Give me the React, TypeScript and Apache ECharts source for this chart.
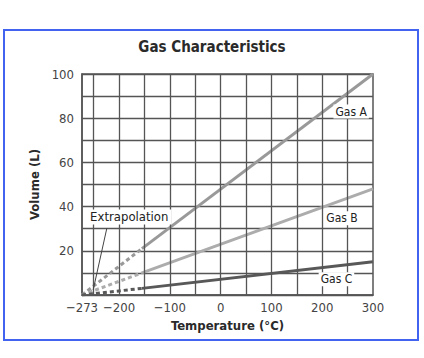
import React, { useEffect, useRef } from "react";
import * as echarts from "echarts";

const FONT = "'DejaVu Sans Condensed', 'Noto Sans', sans-serif";

const xLabelValues = [-273, -200, -100, 0, 100, 200, 300];
const xGridValues = [-250, -200, -150, -100, -50, 0, 50, 100, 150, 200, 250];

const gasNames = ["Gas A", "Gas B", "Gas C"];
const gasColors = ["#999999", "#acacac", "#585858"];
const gasSolid = [
  [[-155, 21], [300, 100]],
  [[-155, 10], [300, 48]],
  [[-155, 3], [300, 15]],
];
const gasDashed = [
  [[-273, 0], [-155, 21]],
  [[-273, 0], [-155, 10]],
  [[-273, 0], [-155, 3]],
];
const gasLabelCoords = [
  [257, 83],
  [239, 34.7],
  [228, 7.1],
];
const extrapLabel = [-180, 35.3];
const extrapPointer = [[-224, 30.3], [-251, 2.3]];

export default function App() {
  const ref = useRef<HTMLDivElement>(null);
  useEffect(() => {
    document.body.style.margin = "0";
    const chart = echarts.init(ref.current!, null, { renderer: "svg" });
    const series: any[] = [];
    gasNames.forEach((name, i) => {
      series.push({
        type: "line",
        name: name + " extrapolation",
        data: gasDashed[i],
        symbol: "none",
        lineStyle: { color: gasColors[i], width: 3, type: [4, 3] },
        z: 3,
      });
      series.push({
        type: "line",
        name,
        data: gasSolid[i],
        symbol: "none",
        lineStyle: { color: gasColors[i], width: 3 },
        z: 4,
        markPoint: {
          symbol: "rect",
          symbolSize: 0,
          silent: true,
          data: [
            {
              coord: gasLabelCoords[i],
              label: {
                show: true,
                formatter: name,
                position: "inside",
                fontFamily: FONT,
                fontSize: 12,
                color: "#222",
                backgroundColor: "#fff",
                padding: [1, 2],
              },
            },
          ],
        },
      });
    });
    series.push({
      type: "line",
      name: "grid",
      data: [],
      symbol: "none",
      z: 1,
      markLine: {
        silent: true,
        symbol: "none",
        label: { show: false },
        lineStyle: { color: "#555", width: 1.3, type: "solid" },
        data: xGridValues.map((v) => ({ xAxis: v })),
      },
    });
    series.push({
      type: "line",
      name: "extrapolation",
      data: [],
      symbol: "none",
      z: 6,
      markLine: {
        silent: true,
        symbol: "none",
        label: { show: false },
        lineStyle: { color: "#444", width: 1, type: "solid" },
        data: [[{ coord: extrapPointer[0] }, { coord: extrapPointer[1] }]],
      },
      markPoint: {
        symbol: "rect",
        symbolSize: 0,
        silent: true,
        data: [
          {
            coord: extrapLabel,
            label: {
              show: true,
              formatter: "Extrapolation",
              position: "inside",
              fontFamily: FONT,
              fontSize: 13,
              color: "#222",
              backgroundColor: "#fff",
              padding: [1, 3],
            },
          },
        ],
      },
    });

    chart.setOption({
      animation: false,
      backgroundColor: "#fff",
      title: {
        text: "Gas Characteristics",
        left: "center",
        top: 34,
        textStyle: { fontFamily: FONT, fontSize: 15, fontWeight: "bold", color: "#2a2a2a" },
      },
      graphic: [
        {
          type: "rect",
          shape: { x: 4, y: 30, width: 414, height: 310 },
          style: { fill: "none", stroke: "#4163f0", lineWidth: 2 },
          z: 0,
        },
      ],
      grid: {
        left: 82,
        right: 51,
        top: 74,
        bottom: 63,
        show: true,
        borderColor: "#555",
        borderWidth: 1.5,
      },
      xAxis: {
        type: "value",
        min: -273,
        max: 300,
        name: "Temperature (°C)",
        nameLocation: "middle",
        nameGap: 24,
        nameTextStyle: { fontFamily: FONT, fontSize: 13, fontWeight: "bold", color: "#2a2a2a" },
        axisLine: { show: true, onZero: false, lineStyle: { color: "#555", width: 1.5 } },
        axisTick: { show: false },
        splitLine: { show: false },
        axisLabel: {
          customValues: xLabelValues,
          fontFamily: FONT,
          fontSize: 13,
          color: "#444",
          margin: 6,
          formatter: (v: number) => String(v).replace("-", "\u2212"),
        },
      },
      yAxis: {
        type: "value",
        min: 0,
        max: 100,
        interval: 10,
        name: "Volume (L)",
        nameLocation: "middle",
        nameGap: 37,
        nameRotate: 90,
        nameTextStyle: { fontFamily: FONT, fontSize: 13, fontWeight: "bold", color: "#2a2a2a" },
        axisLine: { show: true, onZero: false, lineStyle: { color: "#555", width: 1.5 } },
        axisTick: { show: false },
        splitLine: { show: true, lineStyle: { color: "#555", width: 1.3 } },
        axisLabel: {
          fontFamily: FONT,
          fontSize: 13,
          color: "#444",
          margin: 8,
          formatter: (v: number) => (v > 0 && v % 20 === 0 ? String(v) : ""),
        },
      },
      series,
    });
    return () => chart.dispose();
  }, []);
  return <div ref={ref} style={{ width: 424, height: 358 }} />;
}
